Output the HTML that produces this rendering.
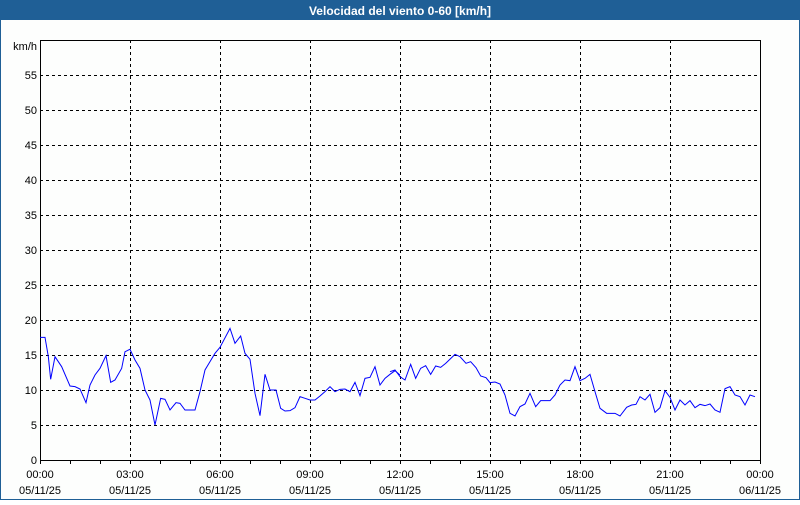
<!DOCTYPE html>
<html><head><meta charset="utf-8"><style>
html,body{margin:0;padding:0;background:#fff;}
body{width:800px;height:500px;overflow:hidden;font-family:"Liberation Sans",sans-serif;}
</style></head><body>
<svg width="800" height="500" xmlns="http://www.w3.org/2000/svg" font-family="Liberation Sans, sans-serif" font-size="11">
<rect x="0" y="0" width="800" height="500" fill="#fdfefd"/>
<rect x="0.5" y="0.5" width="799" height="499" fill="none" stroke="#1f5f96"/>
<rect x="0" y="0" width="800" height="20" fill="#1f5f96"/>
<text x="400" y="15" fill="#fff" font-weight="bold" font-size="12" text-anchor="middle">Velocidad del viento 0-60 [km/h]</text>
<g stroke="#000" stroke-dasharray="3,3" stroke-width="1">
<line x1="40" y1="425.5" x2="760" y2="425.5"/><line x1="40" y1="390.5" x2="760" y2="390.5"/>
<line x1="40" y1="355.5" x2="760" y2="355.5"/><line x1="40" y1="320.5" x2="760" y2="320.5"/>
<line x1="40" y1="285.5" x2="760" y2="285.5"/><line x1="40" y1="250.5" x2="760" y2="250.5"/>
<line x1="40" y1="215.5" x2="760" y2="215.5"/><line x1="40" y1="180.5" x2="760" y2="180.5"/>
<line x1="40" y1="145.5" x2="760" y2="145.5"/><line x1="40" y1="110.5" x2="760" y2="110.5"/>
<line x1="40" y1="75.5" x2="760" y2="75.5"/>
<line x1="130.5" y1="40" x2="130.5" y2="460"/><line x1="220.5" y1="40" x2="220.5" y2="460"/>
<line x1="310.5" y1="40" x2="310.5" y2="460"/><line x1="400.5" y1="40" x2="400.5" y2="460"/>
<line x1="490.5" y1="40" x2="490.5" y2="460"/><line x1="580.5" y1="40" x2="580.5" y2="460"/>
<line x1="670.5" y1="40" x2="670.5" y2="460"/>
</g>
<rect x="40.5" y="40.5" width="720" height="420" fill="none" stroke="#000"/>
<g stroke="#000">
<path d="M40.5 460v4M70.5 460v4M100.5 460v4M130.5 460v4M160.5 460v4M190.5 460v4M220.5 460v4M250.5 460v4M280.5 460v4M310.5 460v4M340.5 460v4M370.5 460v4M400.5 460v4M430.5 460v4M460.5 460v4M490.5 460v4M520.5 460v4M550.5 460v4M580.5 460v4M610.5 460v4M640.5 460v4M670.5 460v4M700.5 460v4M730.5 460v4M760.5 460v4"/>
</g>
<g text-anchor="end">
<text x="37" y="50">km/h</text>
<text x="37" y="464">0</text><text x="37" y="429">5</text><text x="37" y="394">10</text>
<text x="37" y="359">15</text><text x="37" y="324">20</text><text x="37" y="289">25</text>
<text x="37" y="254">30</text><text x="37" y="219">35</text><text x="37" y="184">40</text>
<text x="37" y="149">45</text><text x="37" y="114">50</text><text x="37" y="79">55</text>
</g>
<g text-anchor="middle">
<text x="40" y="478">00:00</text><text x="40" y="494">05/11/25</text>
<text x="130" y="478">03:00</text><text x="130" y="494">05/11/25</text>
<text x="220" y="478">06:00</text><text x="220" y="494">05/11/25</text>
<text x="310" y="478">09:00</text><text x="310" y="494">05/11/25</text>
<text x="400" y="478">12:00</text><text x="400" y="494">05/11/25</text>
<text x="490" y="478">15:00</text><text x="490" y="494">05/11/25</text>
<text x="580" y="478">18:00</text><text x="580" y="494">05/11/25</text>
<text x="670" y="478">21:00</text><text x="670" y="494">05/11/25</text>
<text x="760" y="478">00:00</text><text x="760" y="494">06/11/25</text>
</g>
<g fill="none" stroke="#0000ff" stroke-width="1">
<polyline transform="translate(30,310) scale(0.33333)" vector-effect="non-scaling-stroke" points="30,82 45,82 55,140 62,208 75,140 95,170 120,228 135,230 150,237 168,278 180,225 195,195 210,175 228,137 242,217 255,210 275,175 285,125 300,118 315,150 330,175 345,240 360,270 375,345 392,265 405,268 420,300 438,278 450,280 465,300 495,300 510,245 525,180 540,155 555,130 570,112 600,55 615,100 632,78 645,130 660,148 675,250 690,317 705,193 720,240 738,240 752,295 765,303 780,302 795,293 810,260 825,265 840,270 855,270 870,258 885,245 900,230 915,245 930,238 945,237 960,245 975,217 990,257 1005,205 1020,202 1035,170 1050,225 1065,205 1080,193 1095,182 1110,195"/>
<polyline transform="translate(390,310) scale(0.33333)" vector-effect="non-scaling-stroke" points="0,185 15,180 30,200 45,210 62,163 77,205 92,175 107,167 122,193 137,168 152,172 167,160 195,133 210,140 228,160 242,155 258,173 272,198 288,203 300,218 315,216 330,222 345,255 360,310 375,318 390,290 405,282 420,250 437,290 452,272 480,272 495,255 510,225 525,210 540,212 555,170 570,212 585,205 600,193 615,245 630,295 650,310 675,310 690,318 710,292 725,285 738,283 750,260 765,270 780,253 795,307 810,293 825,242 840,262 855,300 870,270 885,285 900,272 915,293 930,283 945,287 960,282 975,300 990,307 1005,236 1020,230 1035,255 1050,260 1065,285 1080,255 1095,260"/>
</g>
</svg>
</body></html>
